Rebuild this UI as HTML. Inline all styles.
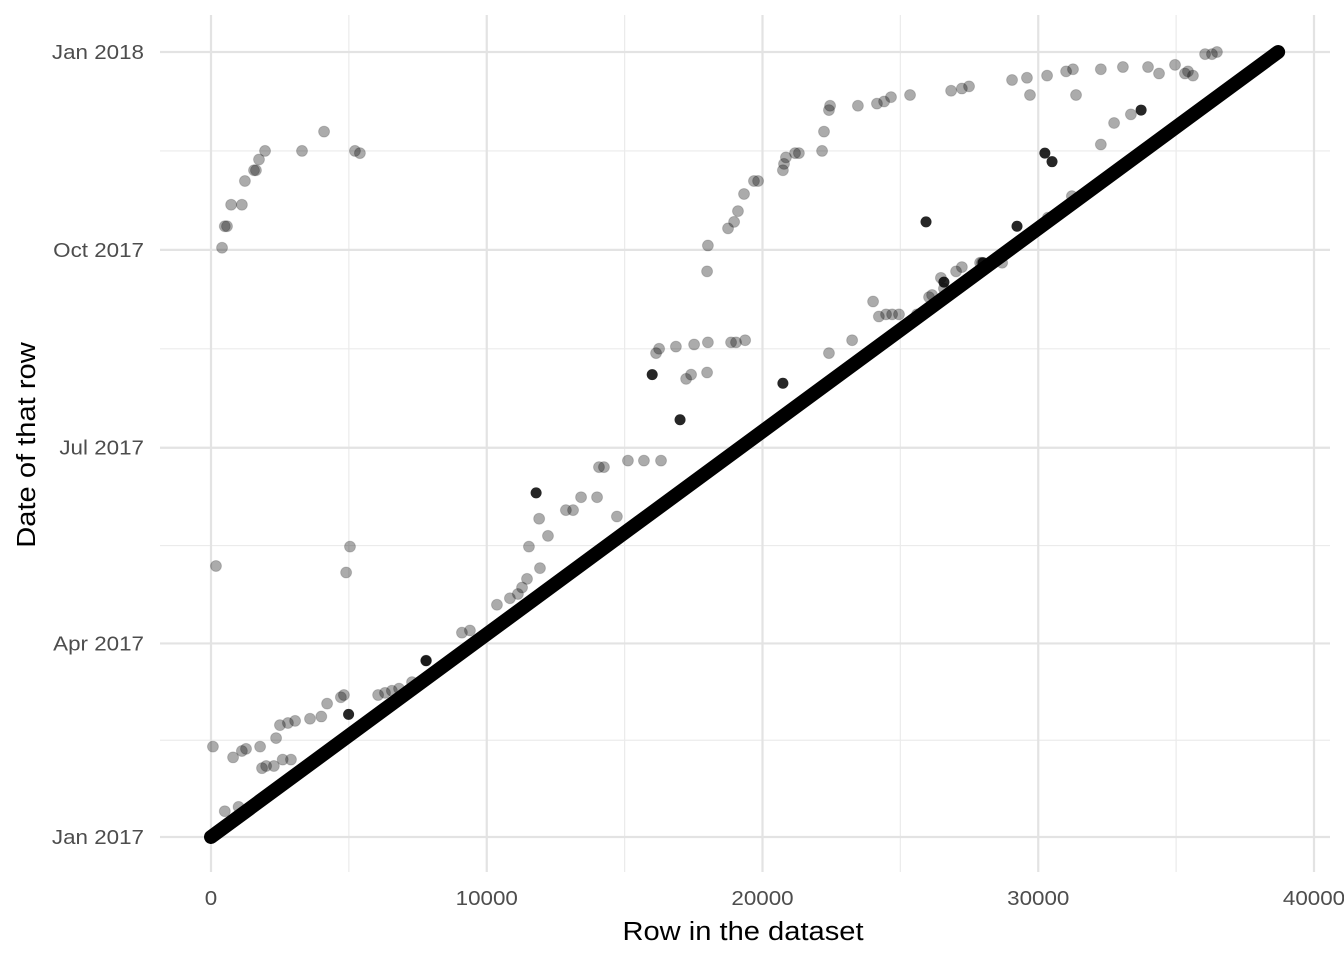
<!DOCTYPE html>
<html><head><meta charset="utf-8"><style>
html,body{margin:0;padding:0;background:#fff;}
svg{display:block;font-family:"Liberation Sans",sans-serif;}
</style></head><body>
<svg id="chart" width="1344" height="960">
<g id="grid"></g>
<g id="marks"></g>
<g id="axes"></g>
<text transform="translate(743,940) scale(1.12,1)" text-anchor="middle" font-size="26" fill="#000">Row in the dataset</text>
<text transform="translate(35,445) rotate(-90) scale(1.12,1)" text-anchor="middle" font-size="26" fill="#000">Date of that row</text>
</svg>
<script>
const xTicks=[0,10000,20000,30000,40000];
const xMinor=[5000,15000,25000,35000];
const yTickDays=[0,90,181,273,365];
const yTickLabels=["Jan 2017","Apr 2017","Jul 2017","Oct 2017","Jan 2018"];
const yMinor=[45,135.5,227,319];
const diagRows=[0,38700];
const diagDays=[0,365];
const ptRows=[400,500,580,730,1120,1230,1560,1740,1630,1960,3300,4100,5220,5400,180,5040,4900,70,800,1120,1270,1780,1850,2000,2280,2360,2500,2790,3050,2900,3590,4210,4710,4820,6060,6310,6560,6820,7290,7800,9100,9390,10370,10840,11130,11280,11460,11930,11530,12220,11900,12870,13130,13420,14000,14070,14250,14720,15120,15700,16320,16140,16250,16860,17520,18020,17230,17410,17990,18860,19040,19370,22410,23250,24010,24220,24480,24700,24950,25600,26040,26150,26580,27020,27230,27890,28690,17990,18020,18750,18970,19110,19330,19690,19840,20740,20780,20850,21180,21320,22160,22230,22410,22450,23460,24150,24410,24660,25350,26840,27230,27490,29050,29590,30320,31010,31260,32270,29700,31370,33070,33980,34380,34960,35320,35610,36050,36300,36480,35430,26470,27960,32750,32270,33360,30350,31220,500,1000,2600,4000];
const ptDays=[274,284,284,294,294,305,310,315,310,319,319,328,319,318,126,135,123,42,37,40,41,42,32,33,33,46,52,53,54,36,55,62,65,66,66,67,68,69,72,82,95,96,108,111,113,116,120,125,135,140,148,152,152,158,158,172,172,149,175,175,175,225,227,228,229,230,213,215,216,230,230,231,225,231,249,242,243,243,243,243,251,252,255,263,265,267,267,263,275,283,286,291,299,305,305,310,313,316,318,318,319,328,338,340,340,341,342,344,345,347,348,349,352,353,354,356,357,357,345,345,358,358,355,359,355,354,364,364,365,356,260,267,332,322,336,288,298,12,14,36,56];
const darkRows=[11790,16000,17010,20740,25930,26580,29230,30240,30500,33730,4990,7800,28000];
const darkDays=[160,215,194,211,286,258,284,318,314,338,57,82,267];
const X=v=>211+v*1103/40000;
const Y=d=>837-d*785/365;
const NS="http://www.w3.org/2000/svg";
function mk(p,tag,a){const e=document.createElementNS(NS,tag);for(const k in a)e.setAttribute(k,a[k]);p.appendChild(e);return e;}
const grid=document.getElementById('grid'),marks=document.getElementById('marks'),axes=document.getElementById('axes');
xMinor.forEach(v=>{const l=mk(grid,'line',{x1:X(v),x2:X(v),y1:15,y2:872,stroke:'#ebebeb','stroke-width':1.2});

});
yMinor.forEach(v=>{const l=mk(grid,'line',{x1:160,x2:1330,y1:Y(v),y2:Y(v),stroke:'#ebebeb','stroke-width':1.2});

});
xTicks.forEach(v=>{const l=mk(grid,'line',{x1:X(v),x2:X(v),y1:15,y2:872,stroke:'#e3e3e3','stroke-width':2.2});


const t=mk(axes,'text',{transform:'translate('+X(v)+',905) scale(1.12,1)','text-anchor':'middle','font-size':20,fill:'#4d4d4d'});t.textContent=v;

});
yTickDays.forEach((v,i)=>{const l=mk(grid,'line',{x1:160,x2:1330,y1:Y(v),y2:Y(v),stroke:'#e3e3e3','stroke-width':2.2});


const t=mk(axes,'text',{transform:'translate(144,'+(Y(v)+7)+') scale(1.12,1)','text-anchor':'end','font-size':20,fill:'#4d4d4d'});t.textContent=yTickLabels[i];

});
const diag=mk(marks,'polyline',{points:diagRows.map((r,i)=>X(r)+','+Y(diagDays[i])).join(' '),fill:'none',stroke:'#000','stroke-width':14,'stroke-linecap':'round'});


ptRows.forEach((r,i)=>{const c=mk(marks,'circle',{cx:X(r),cy:Y(ptDays[i]),r:5.5,fill:'rgba(0,0,0,0.33)',stroke:'rgba(0,0,0,0.15)','stroke-width':1});

});
darkRows.forEach((r,i)=>{const c=mk(marks,'circle',{cx:X(r),cy:Y(darkDays[i]),r:5.5,fill:'rgba(0,0,0,0.85)'});

});
</script>
</body></html>
